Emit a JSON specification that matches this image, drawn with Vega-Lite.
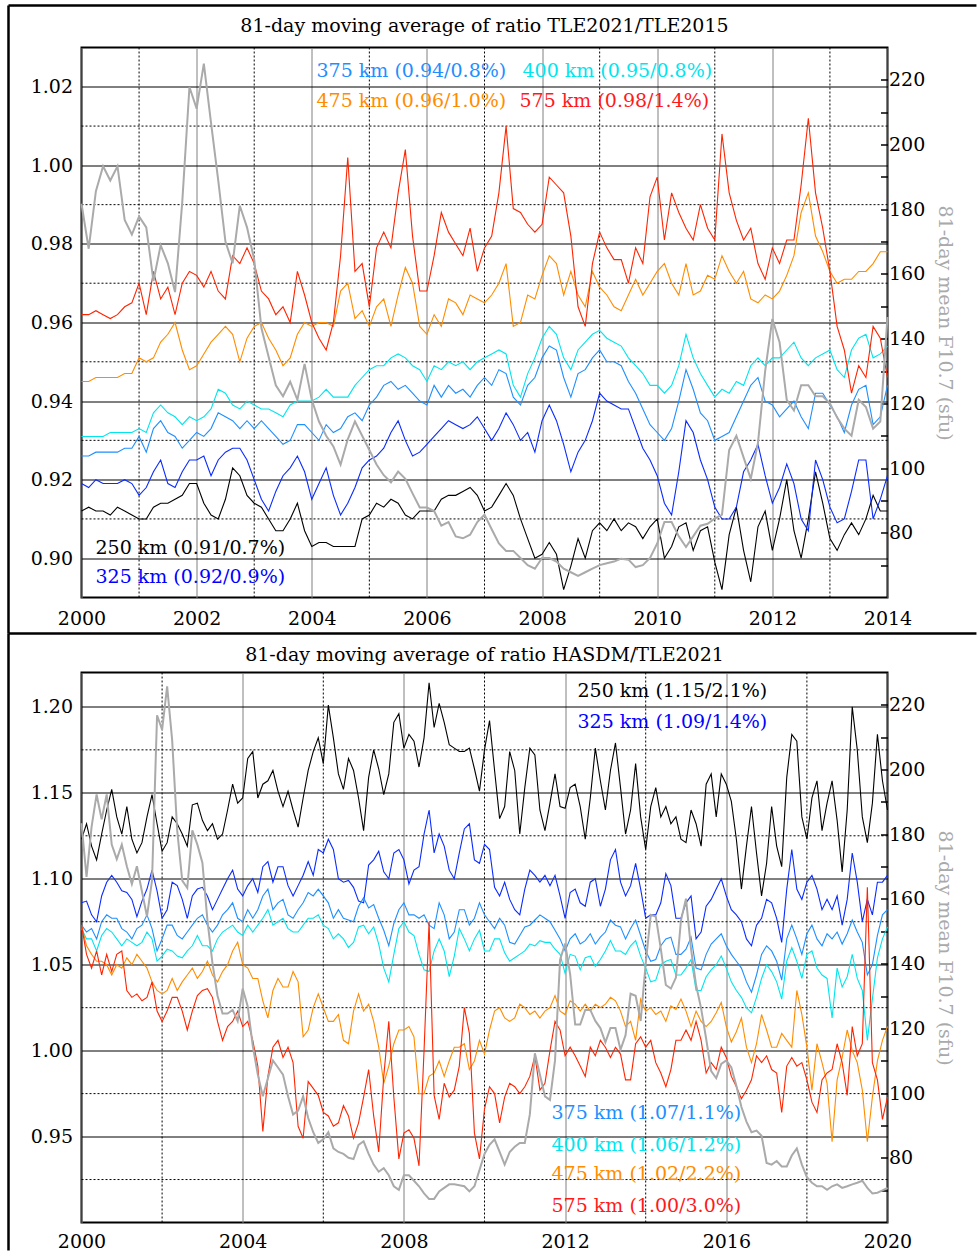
{
"$schema":"https://vega.github.io/schema/vega-lite/v6.json",
"padding":{"left":5.5,"top":2.5,"right":0,"bottom":0},
"background":"#ffffff",
"spacing":75,
"bounds":"flush",
"config":{
 "font":"DejaVu Serif",
 "view":{"stroke":"#000000","strokeWidth":2},
 "axis":{"labelFont":"DejaVu Serif","labelFontSize":19,"labelColor":"#000000","titleFont":"DejaVu Serif","titleFontWeight":"normal","domain":false,"ticks":false,"tickSize":0,"labelFlush":false,"labelOverlap":false,"gridWidth":1}
},
"datasets":{
"top":[
{"t":2000,"a":0.912,"b":0.919,"c":0.926,"d":0.931,"e":0.945,"f":0.962,"g":181.7},
{"t":2000.125,"a":0.913,"b":0.918,"c":0.926,"d":0.931,"e":0.945,"f":0.962,"g":167.8},
{"t":2000.25,"a":0.912,"b":0.920,"c":0.927,"d":0.931,"e":0.946,"f":0.963,"g":185.6},
{"t":2000.375,"a":0.912,"b":0.919,"c":0.927,"d":0.931,"e":0.946,"f":0.962,"g":193.3},
{"t":2000.5,"a":0.911,"b":0.919,"c":0.927,"d":0.932,"e":0.946,"f":0.961,"g":188.9},
{"t":2000.625,"a":0.913,"b":0.919,"c":0.927,"d":0.932,"e":0.946,"f":0.962,"g":193.3},
{"t":2000.75,"a":0.912,"b":0.920,"c":0.928,"d":0.932,"e":0.947,"f":0.964,"g":176.7},
{"t":2000.875,"a":0.911,"b":0.919,"c":0.928,"d":0.932,"e":0.947,"f":0.965,"g":172.2},
{"t":2001,"a":0.910,"b":0.916,"c":0.931,"d":0.933,"e":0.951,"f":0.970,"g":177.8},
{"t":2001.125,"a":0.910,"b":0.918,"c":0.927,"d":0.932,"e":0.950,"f":0.962,"g":174.4},
{"t":2001.25,"a":0.913,"b":0.922,"c":0.933,"d":0.937,"e":0.951,"f":0.973,"g":157.8},
{"t":2001.375,"a":0.914,"b":0.925,"c":0.935,"d":0.939,"e":0.955,"f":0.966,"g":168.9},
{"t":2001.5,"a":0.914,"b":0.919,"c":0.932,"d":0.937,"e":0.957,"f":0.969,"g":163.3},
{"t":2001.625,"a":0.915,"b":0.918,"c":0.931,"d":0.936,"e":0.960,"f":0.962,"g":154.4},
{"t":2001.75,"a":0.916,"b":0.922,"c":0.928,"d":0.934,"e":0.953,"f":0.970,"g":182.2},
{"t":2001.875,"a":0.919,"b":0.925,"c":0.930,"d":0.936,"e":0.948,"f":0.973,"g":217.8},
{"t":2002,"a":0.919,"b":0.925,"c":0.932,"d":0.935,"e":0.949,"f":0.972,"g":211.1},
{"t":2002.125,"a":0.914,"b":0.926,"c":0.931,"d":0.936,"e":0.952,"f":0.969,"g":225},
{"t":2002.25,"a":0.911,"b":0.921,"c":0.933,"d":0.938,"e":0.955,"f":0.973,"g":206.7},
{"t":2002.375,"a":0.910,"b":0.925,"c":0.937,"d":0.943,"e":0.957,"f":0.968,"g":188.9},
{"t":2002.5,"a":0.915,"b":0.927,"c":0.936,"d":0.942,"e":0.959,"f":0.966,"g":170},
{"t":2002.625,"a":0.923,"b":0.928,"c":0.935,"d":0.939,"e":0.957,"f":0.977,"g":163.3},
{"t":2002.75,"a":0.921,"b":0.928,"c":0.933,"d":0.938,"e":0.950,"f":0.975,"g":181.1},
{"t":2002.875,"a":0.916,"b":0.925,"c":0.935,"d":0.940,"e":0.956,"f":0.979,"g":174.4},
{"t":2003,"a":0.914,"b":0.920,"c":0.933,"d":0.939,"e":0.959,"f":0.975,"g":164.4},
{"t":2003.125,"a":0.913,"b":0.915,"c":0.935,"d":0.938,"e":0.960,"f":0.968,"g":143.3},
{"t":2003.25,"a":0.910,"b":0.912,"c":0.933,"d":0.938,"e":0.956,"f":0.966,"g":134.4},
{"t":2003.375,"a":0.907,"b":0.917,"c":0.931,"d":0.937,"e":0.953,"f":0.962,"g":125.6},
{"t":2003.5,"a":0.907,"b":0.921,"c":0.929,"d":0.936,"e":0.949,"f":0.964,"g":122.2},
{"t":2003.625,"a":0.910,"b":0.923,"c":0.930,"d":0.939,"e":0.951,"f":0.960,"g":126.7},
{"t":2003.75,"a":0.914,"b":0.926,"c":0.934,"d":0.940,"e":0.957,"f":0.973,"g":121.1},
{"t":2003.875,"a":0.907,"b":0.922,"c":0.934,"d":0.940,"e":0.960,"f":0.967,"g":132.2},
{"t":2004,"a":0.903,"b":0.915,"c":0.932,"d":0.940,"e":0.959,"f":0.960,"g":121.1},
{"t":2004.125,"a":0.904,"b":0.919,"c":0.930,"d":0.941,"e":0.960,"f":0.956,"g":114.4},
{"t":2004.25,"a":0.904,"b":0.923,"c":0.934,"d":0.943,"e":0.960,"f":0.953,"g":110},
{"t":2004.375,"a":0.903,"b":0.916,"c":0.932,"d":0.941,"e":0.959,"f":0.960,"g":106.7},
{"t":2004.5,"a":0.903,"b":0.911,"c":0.933,"d":0.941,"e":0.968,"f":0.977,"g":101.1},
{"t":2004.625,"a":0.903,"b":0.914,"c":0.936,"d":0.941,"e":0.970,"f":1.002,"g":108.9},
{"t":2004.75,"a":0.903,"b":0.918,"c":0.937,"d":0.944,"e":0.961,"f":0.973,"g":114.4},
{"t":2004.875,"a":0.910,"b":0.923,"c":0.935,"d":0.946,"e":0.963,"f":0.975,"g":110},
{"t":2005,"a":0.911,"b":0.925,"c":0.939,"d":0.948,"e":0.959,"f":0.964,"g":105.6},
{"t":2005.125,"a":0.914,"b":0.926,"c":0.941,"d":0.949,"e":0.964,"f":0.979,"g":101.1},
{"t":2005.25,"a":0.913,"b":0.928,"c":0.944,"d":0.949,"e":0.966,"f":0.983,"g":97.8},
{"t":2005.375,"a":0.915,"b":0.932,"c":0.945,"d":0.951,"e":0.959,"f":0.979,"g":95.6},
{"t":2005.5,"a":0.914,"b":0.935,"c":0.943,"d":0.952,"e":0.967,"f":0.993,"g":98.9},
{"t":2005.625,"a":0.911,"b":0.930,"c":0.944,"d":0.951,"e":0.974,"f":1.004,"g":96.7},
{"t":2005.75,"a":0.910,"b":0.926,"c":0.942,"d":0.949,"e":0.970,"f":0.982,"g":92.2},
{"t":2005.875,"a":0.912,"b":0.927,"c":0.940,"d":0.948,"e":0.959,"f":0.968,"g":87.8},
{"t":2006,"a":0.912,"b":0.929,"c":0.939,"d":0.945,"e":0.957,"f":0.968,"g":87.8},
{"t":2006.125,"a":0.912,"b":0.931,"c":0.944,"d":0.949,"e":0.962,"f":0.977,"g":86.7},
{"t":2006.25,"a":0.915,"b":0.933,"c":0.941,"d":0.948,"e":0.959,"f":0.988,"g":82.2},
{"t":2006.375,"a":0.916,"b":0.935,"c":0.944,"d":0.950,"e":0.966,"f":0.983,"g":83.3},
{"t":2006.5,"a":0.916,"b":0.934,"c":0.942,"d":0.949,"e":0.965,"f":0.980,"g":78.9},
{"t":2006.625,"a":0.917,"b":0.933,"c":0.943,"d":0.950,"e":0.962,"f":0.977,"g":78.3},
{"t":2006.75,"a":0.918,"b":0.934,"c":0.941,"d":0.948,"e":0.967,"f":0.984,"g":79.4},
{"t":2006.875,"a":0.916,"b":0.936,"c":0.944,"d":0.950,"e":0.966,"f":0.973,"g":83.3},
{"t":2007,"a":0.912,"b":0.933,"c":0.946,"d":0.951,"e":0.965,"f":0.979,"g":85.6},
{"t":2007.125,"a":0.913,"b":0.930,"c":0.944,"d":0.952,"e":0.967,"f":0.982,"g":81.1},
{"t":2007.25,"a":0.916,"b":0.933,"c":0.948,"d":0.953,"e":0.970,"f":0.993,"g":76.7},
{"t":2007.375,"a":0.919,"b":0.937,"c":0.947,"d":0.952,"e":0.975,"f":1.010,"g":74.4},
{"t":2007.5,"a":0.916,"b":0.934,"c":0.941,"d":0.944,"e":0.959,"f":0.989,"g":74.4},
{"t":2007.625,"a":0.910,"b":0.930,"c":0.939,"d":0.941,"e":0.960,"f":0.988,"g":72.2},
{"t":2007.75,"a":0.905,"b":0.932,"c":0.944,"d":0.947,"e":0.967,"f":0.985,"g":70},
{"t":2007.875,"a":0.900,"b":0.927,"c":0.946,"d":0.951,"e":0.966,"f":0.983,"g":68.9},
{"t":2008,"a":0.901,"b":0.935,"c":0.951,"d":0.956,"e":0.972,"f":0.985,"g":72.2},
{"t":2008.125,"a":0.904,"b":0.939,"c":0.954,"d":0.959,"e":0.977,"f":0.997,"g":72.2},
{"t":2008.25,"a":0.901,"b":0.935,"c":0.953,"d":0.957,"e":0.975,"f":0.995,"g":71.1},
{"t":2008.375,"a":0.892,"b":0.929,"c":0.946,"d":0.951,"e":0.967,"f":0.993,"g":68.9},
{"t":2008.5,"a":0.898,"b":0.922,"c":0.941,"d":0.948,"e":0.973,"f":0.982,"g":67.8},
{"t":2008.625,"a":0.905,"b":0.927,"c":0.947,"d":0.953,"e":0.967,"f":0.964,"g":66.7},
{"t":2008.75,"a":0.900,"b":0.930,"c":0.948,"d":0.955,"e":0.964,"f":0.959,"g":67.8},
{"t":2008.875,"a":0.907,"b":0.935,"c":0.951,"d":0.957,"e":0.973,"f":0.975,"g":68.9},
{"t":2009,"a":0.909,"b":0.942,"c":0.953,"d":0.958,"e":0.969,"f":0.983,"g":70},
{"t":2009.125,"a":0.907,"b":0.940,"c":0.950,"d":0.956,"e":0.967,"f":0.979,"g":70.6},
{"t":2009.25,"a":0.910,"b":0.939,"c":0.950,"d":0.955,"e":0.964,"f":0.976,"g":71.1},
{"t":2009.375,"a":0.907,"b":0.938,"c":0.949,"d":0.954,"e":0.963,"f":0.976,"g":72},
{"t":2009.5,"a":0.909,"b":0.938,"c":0.945,"d":0.951,"e":0.967,"f":0.970,"g":71.7},
{"t":2009.625,"a":0.908,"b":0.933,"c":0.942,"d":0.949,"e":0.971,"f":0.979,"g":69.4},
{"t":2009.75,"a":0.905,"b":0.928,"c":0.938,"d":0.947,"e":0.967,"f":0.975,"g":70},
{"t":2009.875,"a":0.908,"b":0.925,"c":0.934,"d":0.944,"e":0.970,"f":0.992,"g":72.2},
{"t":2010,"a":0.910,"b":0.921,"c":0.932,"d":0.944,"e":0.973,"f":0.997,"g":76.7},
{"t":2010.125,"a":0.900,"b":0.914,"c":0.930,"d":0.942,"e":0.975,"f":0.981,"g":83.3},
{"t":2010.25,"a":0.903,"b":0.911,"c":0.933,"d":0.944,"e":0.970,"f":0.993,"g":83.3},
{"t":2010.375,"a":0.908,"b":0.922,"c":0.940,"d":0.949,"e":0.967,"f":0.988,"g":78.9},
{"t":2010.5,"a":0.909,"b":0.935,"c":0.948,"d":0.957,"e":0.975,"f":0.984,"g":75.6},
{"t":2010.625,"a":0.902,"b":0.932,"c":0.943,"d":0.951,"e":0.967,"f":0.981,"g":78.9},
{"t":2010.75,"a":0.907,"b":0.925,"c":0.937,"d":0.947,"e":0.968,"f":0.990,"g":82.2},
{"t":2010.875,"a":0.908,"b":0.920,"c":0.935,"d":0.944,"e":0.972,"f":0.984,"g":82.8},
{"t":2011,"a":0.899,"b":0.913,"c":0.930,"d":0.941,"e":0.971,"f":0.981,"g":84.4},
{"t":2011.125,"a":0.892,"b":0.910,"c":0.931,"d":0.943,"e":0.977,"f":1.008,"g":85.6},
{"t":2011.25,"a":0.906,"b":0.910,"c":0.932,"d":0.942,"e":0.973,"f":0.993,"g":105.6},
{"t":2011.375,"a":0.913,"b":0.913,"c":0.936,"d":0.945,"e":0.970,"f":0.986,"g":110},
{"t":2011.5,"a":0.902,"b":0.922,"c":0.940,"d":0.944,"e":0.973,"f":0.981,"g":103.3},
{"t":2011.625,"a":0.894,"b":0.925,"c":0.944,"d":0.949,"e":0.966,"f":0.984,"g":96.7},
{"t":2011.75,"a":0.908,"b":0.929,"c":0.946,"d":0.951,"e":0.965,"f":0.975,"g":107.8},
{"t":2011.875,"a":0.912,"b":0.921,"c":0.940,"d":0.949,"e":0.967,"f":0.971,"g":130},
{"t":2012,"a":0.902,"b":0.914,"c":0.939,"d":0.951,"e":0.966,"f":0.979,"g":146.1},
{"t":2012.125,"a":0.910,"b":0.918,"c":0.936,"d":0.951,"e":0.968,"f":0.975,"g":138.9},
{"t":2012.25,"a":0.920,"b":0.924,"c":0.938,"d":0.953,"e":0.972,"f":0.981,"g":121.1},
{"t":2012.375,"a":0.907,"b":0.919,"c":0.940,"d":0.955,"e":0.977,"f":0.981,"g":117.8},
{"t":2012.5,"a":0.900,"b":0.910,"c":0.936,"d":0.951,"e":0.988,"f":0.995,"g":125.6},
{"t":2012.625,"a":0.910,"b":0.907,"c":0.933,"d":0.949,"e":0.993,"f":1.012,"g":125.6},
{"t":2012.75,"a":0.922,"b":0.925,"c":0.942,"d":0.951,"e":0.982,"f":0.993,"g":122.2},
{"t":2012.875,"a":0.914,"b":0.920,"c":0.942,"d":0.952,"e":0.978,"f":0.984,"g":122.2},
{"t":2013,"a":0.905,"b":0.913,"c":0.939,"d":0.953,"e":0.973,"f":0.973,"g":120},
{"t":2013.125,"a":0.902,"b":0.909,"c":0.936,"d":0.948,"e":0.970,"f":0.959,"g":115.6},
{"t":2013.25,"a":0.906,"b":0.910,"c":0.932,"d":0.946,"e":0.971,"f":0.953,"g":112.2},
{"t":2013.375,"a":0.909,"b":0.917,"c":0.939,"d":0.953,"e":0.971,"f":0.942,"g":110},
{"t":2013.5,"a":0.906,"b":0.925,"c":0.943,"d":0.956,"e":0.973,"f":0.949,"g":121.1},
{"t":2013.625,"a":0.910,"b":0.925,"c":0.944,"d":0.957,"e":0.973,"f":0.946,"g":118.9},
{"t":2013.75,"a":0.916,"b":0.910,"c":0.934,"d":0.951,"e":0.975,"f":0.959,"g":112.2},
{"t":2013.875,"a":0.912,"b":0.915,"c":0.936,"d":0.952,"e":0.978,"f":0.956,"g":114.4},
{"t":2014,"a":0.912,"b":0.921,"c":0.944,"d":0.954,"e":0.978,"f":0.946,"g":146.7}
],
"bot":[
{"t":2000,"a":1.123,"b":1.086,"c":1.073,"d":1.071,"e":1.073,"f":1.073,"g":183.4},
{"t":2000.125,"a":1.132,"b":1.087,"c":1.069,"d":1.065,"e":1.061,"f":1.056,"g":166.8},
{"t":2000.25,"a":1.119,"b":1.079,"c":1.071,"d":1.065,"e":1.056,"f":1.048,"g":182.3},
{"t":2000.375,"a":1.111,"b":1.075,"c":1.065,"d":1.058,"e":1.052,"f":1.058,"g":192.3},
{"t":2000.5,"a":1.126,"b":1.090,"c":1.075,"d":1.067,"e":1.052,"f":1.044,"g":184.6},
{"t":2000.625,"a":1.140,"b":1.098,"c":1.079,"d":1.071,"e":1.050,"f":1.056,"g":192.3},
{"t":2000.75,"a":1.152,"b":1.102,"c":1.077,"d":1.069,"e":1.044,"f":1.046,"g":176.8},
{"t":2000.875,"a":1.136,"b":1.098,"c":1.077,"d":1.065,"e":1.050,"f":1.056,"g":172.3},
{"t":2001,"a":1.126,"b":1.093,"c":1.071,"d":1.061,"e":1.048,"f":1.058,"g":176.8},
{"t":2001.125,"a":1.142,"b":1.092,"c":1.069,"d":1.065,"e":1.054,"f":1.035,"g":170.1},
{"t":2001.25,"a":1.123,"b":1.088,"c":1.065,"d":1.063,"e":1.050,"f":1.031,"g":164.6},
{"t":2001.375,"a":1.115,"b":1.078,"c":1.071,"d":1.061,"e":1.056,"f":1.033,"g":170.1},
{"t":2001.5,"a":1.121,"b":1.087,"c":1.073,"d":1.063,"e":1.052,"f":1.029,"g":162.3},
{"t":2001.625,"a":1.136,"b":1.094,"c":1.079,"d":1.069,"e":1.048,"f":1.031,"g":154.6},
{"t":2001.75,"a":1.149,"b":1.105,"c":1.071,"d":1.065,"e":1.040,"f":1.040,"g":165.7},
{"t":2001.875,"a":1.132,"b":1.093,"c":1.058,"d":1.052,"e":1.035,"f":1.023,"g":216.8},
{"t":2002,"a":1.116,"b":1.077,"c":1.065,"d":1.055,"e":1.033,"f":1.017,"g":212.3},
{"t":2002.125,"a":1.121,"b":1.082,"c":1.073,"d":1.059,"e":1.035,"f":1.023,"g":225.7},
{"t":2002.25,"a":1.136,"b":1.098,"c":1.073,"d":1.058,"e":1.042,"f":1.031,"g":209},
{"t":2002.375,"a":1.132,"b":1.096,"c":1.067,"d":1.055,"e":1.035,"f":1.031,"g":181.2},
{"t":2002.5,"a":1.126,"b":1.088,"c":1.065,"d":1.054,"e":1.040,"f":1.023,"g":165.7},
{"t":2002.625,"a":1.119,"b":1.077,"c":1.069,"d":1.058,"e":1.044,"f":1.012,"g":163.4},
{"t":2002.75,"a":1.143,"b":1.090,"c":1.073,"d":1.061,"e":1.048,"f":1.023,"g":181.2},
{"t":2002.875,"a":1.144,"b":1.094,"c":1.077,"d":1.067,"e":1.042,"f":1.032,"g":176.8},
{"t":2003,"a":1.134,"b":1.095,"c":1.079,"d":1.061,"e":1.046,"f":1.035,"g":171.2},
{"t":2003.125,"a":1.128,"b":1.090,"c":1.073,"d":1.061,"e":1.052,"f":1.036,"g":153.4},
{"t":2003.25,"a":1.132,"b":1.082,"c":1.069,"d":1.058,"e":1.044,"f":1.031,"g":140.1},
{"t":2003.375,"a":1.123,"b":1.088,"c":1.073,"d":1.065,"e":1.040,"f":1.017,"g":130.1},
{"t":2003.5,"a":1.126,"b":1.094,"c":1.079,"d":1.069,"e":1.046,"f":1.006,"g":124.6},
{"t":2003.625,"a":1.140,"b":1.100,"c":1.082,"d":1.071,"e":1.050,"f":1.014,"g":124.6},
{"t":2003.75,"a":1.155,"b":1.105,"c":1.086,"d":1.073,"e":1.058,"f":1.017,"g":125.7},
{"t":2003.875,"a":1.144,"b":1.094,"c":1.077,"d":1.069,"e":1.063,"f":1.023,"g":122.3},
{"t":2004,"a":1.147,"b":1.090,"c":1.075,"d":1.067,"e":1.050,"f":1.014,"g":132.3},
{"t":2004.125,"a":1.170,"b":1.096,"c":1.082,"d":1.073,"e":1.048,"f":1.017,"g":126.8},
{"t":2004.25,"a":1.174,"b":1.100,"c":1.077,"d":1.069,"e":1.042,"f":1.006,"g":114.6},
{"t":2004.375,"a":1.147,"b":1.092,"c":1.082,"d":1.073,"e":1.042,"f":0.991,"g":105.7},
{"t":2004.5,"a":1.155,"b":1.107,"c":1.090,"d":1.077,"e":1.029,"f":0.953,"g":99},
{"t":2004.625,"a":1.157,"b":1.110,"c":1.094,"d":1.082,"e":1.019,"f":0.985,"g":104.6},
{"t":2004.75,"a":1.163,"b":1.098,"c":1.082,"d":1.073,"e":1.035,"f":1.002,"g":110.1},
{"t":2004.875,"a":1.151,"b":1.107,"c":1.086,"d":1.075,"e":1.042,"f":1.006,"g":107.9},
{"t":2005,"a":1.142,"b":1.107,"c":1.088,"d":1.077,"e":1.037,"f":0.996,"g":105.7},
{"t":2005.125,"a":1.151,"b":1.096,"c":1.079,"d":1.071,"e":1.037,"f":1.002,"g":99},
{"t":2005.25,"a":1.140,"b":1.090,"c":1.077,"d":1.069,"e":1.046,"f":0.993,"g":93.4},
{"t":2005.375,"a":1.130,"b":1.096,"c":1.082,"d":1.069,"e":1.040,"f":0.956,"g":94.6},
{"t":2005.5,"a":1.147,"b":1.102,"c":1.086,"d":1.073,"e":1.008,"f":0.949,"g":99},
{"t":2005.625,"a":1.163,"b":1.110,"c":1.092,"d":1.077,"e":1.012,"f":0.982,"g":92.3},
{"t":2005.75,"a":1.174,"b":1.102,"c":1.090,"d":1.077,"e":1.025,"f":0.978,"g":87.9},
{"t":2005.875,"a":1.182,"b":1.117,"c":1.094,"d":1.079,"e":1.033,"f":0.974,"g":84.6},
{"t":2006,"a":1.167,"b":1.115,"c":1.090,"d":1.073,"e":1.025,"f":0.964,"g":85.7},
{"t":2006.125,"a":1.201,"b":1.123,"c":1.086,"d":1.071,"e":1.017,"f":0.962,"g":87.9},
{"t":2006.25,"a":1.182,"b":1.117,"c":1.077,"d":1.065,"e":1.017,"f":0.956,"g":82.9},
{"t":2006.375,"a":1.161,"b":1.100,"c":1.082,"d":1.068,"e":1.021,"f":0.958,"g":81.8},
{"t":2006.5,"a":1.152,"b":1.098,"c":1.077,"d":1.065,"e":1.006,"f":0.968,"g":81.2},
{"t":2006.625,"a":1.170,"b":1.099,"c":1.076,"d":1.060,"e":1.004,"f":0.962,"g":80},
{"t":2006.75,"a":1.163,"b":1.095,"c":1.075,"d":1.063,"e":1.023,"f":0.949,"g":79.6},
{"t":2006.875,"a":1.147,"b":1.087,"c":1.084,"d":1.072,"e":1.033,"f":0.958,"g":84},
{"t":2007,"a":1.128,"b":1.086,"c":1.089,"d":1.073,"e":1.023,"f":0.973,"g":85.1},
{"t":2007.125,"a":1.159,"b":1.108,"c":1.083,"d":1.068,"e":1.027,"f":0.989,"g":81.2},
{"t":2007.25,"a":1.175,"b":1.111,"c":1.085,"d":1.072,"e":1.017,"f":0.962,"g":77.9},
{"t":2007.375,"a":1.164,"b":1.116,"c":1.077,"d":1.062,"e":1.002,"f":0.941,"g":75.7},
{"t":2007.5,"a":1.149,"b":1.104,"c":1.070,"d":1.048,"e":0.981,"f":0.985,"g":76.8},
{"t":2007.625,"a":1.161,"b":1.100,"c":1.061,"d":1.040,"e":0.991,"f":1.017,"g":74.6},
{"t":2007.75,"a":1.191,"b":1.115,"c":1.074,"d":1.056,"e":1.004,"f":0.973,"g":71.2},
{"t":2007.875,"a":1.196,"b":1.117,"c":1.082,"d":1.071,"e":1.012,"f":0.937,"g":70.1},
{"t":2008,"a":1.176,"b":1.111,"c":1.086,"d":1.075,"e":1.012,"f":0.952,"g":74.6},
{"t":2008.125,"a":1.184,"b":1.097,"c":1.079,"d":1.069,"e":1.014,"f":0.954,"g":74.6},
{"t":2008.25,"a":1.180,"b":1.105,"c":1.079,"d":1.067,"e":1.008,"f":0.949,"g":72.9},
{"t":2008.375,"a":1.165,"b":1.107,"c":1.077,"d":1.056,"e":0.975,"f":0.933,"g":71.2},
{"t":2008.5,"a":1.182,"b":1.126,"c":1.079,"d":1.047,"e":0.975,"f":1.000,"g":69},
{"t":2008.625,"a":1.214,"b":1.140,"c":1.073,"d":1.046,"e":0.985,"f":1.075,"g":67.3},
{"t":2008.75,"a":1.188,"b":1.115,"c":1.071,"d":1.058,"e":0.987,"f":0.974,"g":67.3},
{"t":2008.875,"a":1.202,"b":1.126,"c":1.086,"d":1.065,"e":0.994,"f":0.960,"g":69.6},
{"t":2009,"a":1.191,"b":1.119,"c":1.079,"d":1.058,"e":0.985,"f":0.981,"g":70.7},
{"t":2009.125,"a":1.178,"b":1.105,"c":1.065,"d":1.043,"e":0.994,"f":0.973,"g":71.8},
{"t":2009.25,"a":1.176,"b":1.100,"c":1.069,"d":1.055,"e":1.002,"f":0.977,"g":71.8},
{"t":2009.375,"a":1.174,"b":1.115,"c":1.082,"d":1.071,"e":1.002,"f":0.991,"g":71.5},
{"t":2009.5,"a":1.174,"b":1.129,"c":1.082,"d":1.065,"e":1.004,"f":1.025,"g":71.2},
{"t":2009.625,"a":1.176,"b":1.132,"c":1.073,"d":1.058,"e":0.989,"f":1.010,"g":69.6},
{"t":2009.75,"a":1.164,"b":1.111,"c":1.077,"d":1.065,"e":0.994,"f":0.952,"g":71.2},
{"t":2009.875,"a":1.151,"b":1.109,"c":1.086,"d":1.070,"e":1.006,"f":0.937,"g":76.2},
{"t":2010,"a":1.175,"b":1.120,"c":1.079,"d":1.058,"e":0.998,"f":0.966,"g":81.2},
{"t":2010.125,"a":1.192,"b":1.117,"c":1.075,"d":1.058,"e":1.012,"f":0.979,"g":84},
{"t":2010.25,"a":1.163,"b":1.095,"c":1.071,"d":1.065,"e":1.023,"f":0.975,"g":85.7},
{"t":2010.375,"a":1.135,"b":1.090,"c":1.077,"d":1.065,"e":1.025,"f":0.958,"g":81.8},
{"t":2010.5,"a":1.142,"b":1.098,"c":1.073,"d":1.057,"e":1.019,"f":0.973,"g":77.9},
{"t":2010.625,"a":1.174,"b":1.088,"c":1.063,"d":1.052,"e":1.017,"f":0.981,"g":81.8},
{"t":2010.75,"a":1.163,"b":1.082,"c":1.062,"d":1.054,"e":1.019,"f":0.979,"g":83.4},
{"t":2010.875,"a":1.126,"b":1.079,"c":1.067,"d":1.056,"e":1.027,"f":0.975,"g":84.6},
{"t":2011,"a":1.153,"b":1.094,"c":1.072,"d":1.058,"e":1.025,"f":0.979,"g":84.6},
{"t":2011.125,"a":1.176,"b":1.105,"c":1.073,"d":1.062,"e":1.021,"f":0.985,"g":93.4},
{"t":2011.25,"a":1.172,"b":1.102,"c":1.076,"d":1.061,"e":1.023,"f":0.997,"g":112.3},
{"t":2011.375,"a":1.140,"b":1.098,"c":1.079,"d":1.064,"e":1.019,"f":0.977,"g":105.7},
{"t":2011.5,"a":1.128,"b":1.102,"c":1.077,"d":1.063,"e":1.023,"f":0.981,"g":99},
{"t":2011.625,"a":1.144,"b":1.096,"c":1.075,"d":1.063,"e":1.025,"f":1.000,"g":97.9},
{"t":2011.75,"a":1.161,"b":1.102,"c":1.070,"d":1.059,"e":1.032,"f":1.017,"g":110.1},
{"t":2011.875,"a":1.142,"b":1.090,"c":1.065,"d":1.056,"e":1.023,"f":1.012,"g":141.2},
{"t":2012,"a":1.141,"b":1.077,"c":1.058,"d":1.045,"e":1.021,"f":0.997,"g":146.2},
{"t":2012.125,"a":1.153,"b":1.092,"c":1.065,"d":1.056,"e":1.029,"f":1.002,"g":136.8},
{"t":2012.25,"a":1.155,"b":1.094,"c":1.068,"d":1.055,"e":1.027,"f":0.997,"g":121.2},
{"t":2012.375,"a":1.142,"b":1.086,"c":1.062,"d":1.047,"e":1.023,"f":0.991,"g":121.2},
{"t":2012.5,"a":1.123,"b":1.084,"c":1.064,"d":1.054,"e":1.027,"f":0.985,"g":125.7},
{"t":2012.625,"a":1.147,"b":1.098,"c":1.068,"d":1.055,"e":1.023,"f":1.002,"g":125.7},
{"t":2012.75,"a":1.176,"b":1.100,"c":1.062,"d":1.049,"e":1.027,"f":0.997,"g":122.3},
{"t":2012.875,"a":1.157,"b":1.084,"c":1.066,"d":1.053,"e":1.025,"f":1.006,"g":120.1},
{"t":2013,"a":1.140,"b":1.094,"c":1.069,"d":1.058,"e":1.027,"f":1.002,"g":115.7},
{"t":2013.125,"a":1.163,"b":1.111,"c":1.076,"d":1.064,"e":1.031,"f":0.996,"g":120.1},
{"t":2013.25,"a":1.179,"b":1.117,"c":1.073,"d":1.058,"e":1.029,"f":1.002,"g":120.1},
{"t":2013.375,"a":1.153,"b":1.098,"c":1.072,"d":1.058,"e":1.023,"f":0.998,"g":113.4},
{"t":2013.5,"a":1.126,"b":1.090,"c":1.065,"d":1.056,"e":1.014,"f":0.983,"g":117.9},
{"t":2013.625,"a":1.140,"b":1.096,"c":1.071,"d":1.061,"e":1.017,"f":0.983,"g":130.7},
{"t":2013.75,"a":1.167,"b":1.109,"c":1.076,"d":1.064,"e":1.006,"f":1.004,"g":130.1},
{"t":2013.875,"a":1.136,"b":1.094,"c":1.067,"d":1.055,"e":1.030,"f":1.008,"g":122.3},
{"t":2014,"a":1.117,"b":1.077,"c":1.058,"d":1.048,"e":1.023,"f":1.002,"g":140},
{"t":2014.125,"a":1.142,"b":1.079,"c":1.052,"d":1.040,"e":1.025,"f":1.006,"g":155.1},
{"t":2014.25,"a":1.153,"b":1.079,"c":1.053,"d":1.041,"e":1.021,"f":0.993,"g":154.6},
{"t":2014.375,"a":1.136,"b":1.086,"c":1.061,"d":1.050,"e":1.023,"f":0.987,"g":144.6},
{"t":2014.5,"a":1.142,"b":1.103,"c":1.065,"d":1.052,"e":1.017,"f":0.979,"g":133.4},
{"t":2014.625,"a":1.132,"b":1.096,"c":1.066,"d":1.053,"e":1.026,"f":0.989,"g":132.3},
{"t":2014.75,"a":1.136,"b":1.077,"c":1.056,"d":1.044,"e":1.024,"f":1.006,"g":135.7},
{"t":2014.875,"a":1.123,"b":1.077,"c":1.056,"d":1.044,"e":1.030,"f":1.006,"g":153.4},
{"t":2015,"a":1.121,"b":1.086,"c":1.059,"d":1.048,"e":1.023,"f":1.012,"g":160.1},
{"t":2015.125,"a":1.140,"b":1.090,"c":1.066,"d":1.053,"e":1.014,"f":1.006,"g":144.6},
{"t":2015.25,"a":1.132,"b":1.065,"c":1.048,"d":1.035,"e":1.023,"f":1.017,"g":133.4},
{"t":2015.375,"a":1.119,"b":1.069,"c":1.047,"d":1.035,"e":1.017,"f":1.006,"g":126.2},
{"t":2015.5,"a":1.155,"b":1.084,"c":1.056,"d":1.043,"e":1.014,"f":0.987,"g":116.8},
{"t":2015.625,"a":1.161,"b":1.088,"c":1.062,"d":1.047,"e":1.017,"f":0.993,"g":106.8},
{"t":2015.75,"a":1.136,"b":1.094,"c":1.065,"d":1.050,"e":1.022,"f":0.989,"g":104.6},
{"t":2015.875,"a":1.161,"b":1.100,"c":1.068,"d":1.055,"e":1.028,"f":1.002,"g":109},
{"t":2016,"a":1.155,"b":1.090,"c":1.061,"d":1.048,"e":1.014,"f":0.996,"g":110.1},
{"t":2016.125,"a":1.145,"b":1.082,"c":1.056,"d":1.040,"e":1.005,"f":0.985,"g":107.9},
{"t":2016.25,"a":1.123,"b":1.079,"c":1.052,"d":1.035,"e":1.011,"f":0.979,"g":102.3},
{"t":2016.375,"a":1.094,"b":1.075,"c":1.048,"d":1.031,"e":1.019,"f":0.972,"g":95.7},
{"t":2016.5,"a":1.119,"b":1.065,"c":1.040,"d":1.025,"e":1.002,"f":0.977,"g":91.2},
{"t":2016.625,"a":1.142,"b":1.061,"c":1.034,"d":1.022,"e":0.993,"f":0.983,"g":87.9},
{"t":2016.75,"a":1.115,"b":1.073,"c":1.044,"d":1.031,"e":1.004,"f":0.997,"g":88.4},
{"t":2016.875,"a":1.090,"b":1.077,"c":1.056,"d":1.042,"e":1.021,"f":0.993,"g":86.8},
{"t":2017,"a":1.109,"b":1.088,"c":1.061,"d":1.050,"e":1.012,"f":0.997,"g":78.4},
{"t":2017.125,"a":1.142,"b":1.086,"c":1.058,"d":1.046,"e":1.002,"f":0.989,"g":77.9},
{"t":2017.25,"a":1.119,"b":1.077,"c":1.052,"d":1.040,"e":1.002,"f":0.987,"g":79},
{"t":2017.375,"a":1.107,"b":1.063,"c":1.041,"d":1.030,"e":1.010,"f":0.964,"g":77.3},
{"t":2017.5,"a":1.159,"b":1.094,"c":1.065,"d":1.052,"e":1.006,"f":0.991,"g":77.3},
{"t":2017.625,"a":1.184,"b":1.117,"c":1.073,"d":1.060,"e":1.002,"f":0.996,"g":80.7},
{"t":2017.75,"a":1.180,"b":1.094,"c":1.065,"d":1.052,"e":1.035,"f":0.991,"g":82.9},
{"t":2017.875,"a":1.136,"b":1.088,"c":1.056,"d":1.042,"e":1.021,"f":0.993,"g":77.9},
{"t":2018,"a":1.123,"b":1.098,"c":1.068,"d":1.056,"e":1.002,"f":0.983,"g":74},
{"t":2018.125,"a":1.147,"b":1.102,"c":1.073,"d":1.058,"e":0.977,"f":0.970,"g":72.3},
{"t":2018.25,"a":1.157,"b":1.094,"c":1.065,"d":1.048,"e":1.004,"f":0.964,"g":71.2},
{"t":2018.375,"a":1.128,"b":1.082,"c":1.061,"d":1.044,"e":0.993,"f":0.983,"g":71.2},
{"t":2018.5,"a":1.144,"b":1.088,"c":1.068,"d":1.042,"e":0.981,"f":0.987,"g":70.1},
{"t":2018.625,"a":1.157,"b":1.082,"c":1.065,"d":1.019,"e":0.947,"f":0.989,"g":71.2},
{"t":2018.75,"a":1.134,"b":1.090,"c":1.069,"d":1.048,"e":0.983,"f":1.004,"g":71.8},
{"t":2018.875,"a":1.104,"b":1.073,"c":1.062,"d":1.037,"e":0.996,"f":0.993,"g":70.7},
{"t":2019,"a":1.140,"b":1.088,"c":1.068,"d":1.043,"e":1.012,"f":0.974,"g":71.2},
{"t":2019.125,"a":1.200,"b":1.115,"c":1.076,"d":1.056,"e":1.000,"f":1.014,"g":71.8},
{"t":2019.25,"a":1.175,"b":1.098,"c":1.069,"d":1.042,"e":0.993,"f":0.997,"g":72.3},
{"t":2019.375,"a":1.136,"b":1.075,"c":1.063,"d":1.035,"e":0.977,"f":1.004,"g":72.9},
{"t":2019.5,"a":1.121,"b":1.088,"c":1.044,"d":1.006,"e":0.947,"f":1.095,"g":70.7},
{"t":2019.625,"a":1.144,"b":1.079,"c":1.050,"d":1.030,"e":0.973,"f":0.993,"g":69},
{"t":2019.75,"a":1.184,"b":1.098,"c":1.067,"d":1.054,"e":0.994,"f":0.983,"g":69.2},
{"t":2019.875,"a":1.157,"b":1.098,"c":1.079,"d":1.065,"e":1.006,"f":0.960,"g":69.9},
{"t":2020,"a":1.140,"b":1.102,"c":1.082,"d":1.072,"e":1.014,"f":0.973,"g":70.7}
]
},
"vconcat":[
{
 "width":806,"height":550,
 "resolve":{"scale":{"y":"independent"}},
 "layer":[
  {"layer":[
   {"data":{"values":[{"g":0.91},{"g":0.93},{"g":0.95},{"g":0.97},{"g":0.99},{"g":1.01}]},
    "mark":{"type":"rule","color":"#000000","strokeWidth":1,"strokeDash":[2,2]},
    "encoding":{"y":{"field":"g","type":"quantitative"}}},
   {"data":{"values":[{"g":2001},{"g":2003},{"g":2005},{"g":2007},{"g":2009},{"g":2011},{"g":2013}]},
    "mark":{"type":"rule","color":"#000000","strokeWidth":1,"strokeDash":[2,2]},
    "encoding":{"x":{"field":"g","type":"quantitative"}}},
   {"data":{"name":"top"},
    "transform":[{"fold":["a","b","c","d","e","f"],"as":["s","v"]}],
    "mark":{"type":"line","strokeWidth":1.1},
    "encoding":{
     "x":{"field":"t","type":"quantitative","scale":{"domain":[2000,2014],"nice":false,"zero":false},
          "axis":{"values":[2000,2002,2004,2006,2008,2010,2012,2014],"format":"d","title":null,"grid":true,"gridColor":"#808080","labelPadding":12}},
     "y":{"field":"v","type":"quantitative","scale":{"domain":[0.89,1.03],"nice":false,"zero":false},
          "axis":{"values":[0.90,0.92,0.94,0.96,0.98,1.00,1.02],"format":".2f","title":null,"grid":true,"gridColor":"#000000","labelPadding":9}},
     "color":{"field":"s","type":"nominal","scale":{"domain":["a","b","c","d","e","f"],"range":["#000000","#0a2bff","#1e8fff","#00e5ee","#ff8c00","#ff2400"]},"legend":null}
    }},
   {"data":{"values":[{}]},"mark":{"type":"text","text":"81-day moving average of ratio TLE2021/TLE2015","color":"#000000","align":"center","baseline":"alphabetic","fontSize":19,"font":"DejaVu Serif"},
    "encoding":{"x":{"datum":2007},"y":{"datum":1.03382}}},
   {"data":{"values":[{}]},"mark":{"type":"text","text":"375 km (0.94/0.8%)","color":"#1e8fff","align":"left","baseline":"middle","fontSize":19,"font":"DejaVu Serif"},
    "encoding":{"x":{"datum":2004.082},"y":{"datum":1.0239}}},
   {"data":{"values":[{}]},"mark":{"type":"text","text":"400 km (0.95/0.8%)","color":"#00e5ee","align":"left","baseline":"middle","fontSize":19,"font":"DejaVu Serif"},
    "encoding":{"x":{"datum":2007.66},"y":{"datum":1.0239}}},
   {"data":{"values":[{}]},"mark":{"type":"text","text":"475 km (0.96/1.0%)","color":"#ff8c00","align":"left","baseline":"middle","fontSize":19,"font":"DejaVu Serif"},
    "encoding":{"x":{"datum":2004.082},"y":{"datum":1.0165}}},
   {"data":{"values":[{}]},"mark":{"type":"text","text":"575 km (0.98/1.4%)","color":"#ff1a1a","align":"left","baseline":"middle","fontSize":19,"font":"DejaVu Serif"},
    "encoding":{"x":{"datum":2007.608},"y":{"datum":1.0165}}},
   {"data":{"values":[{}]},"mark":{"type":"text","text":"250 km (0.91/0.7%)","color":"#000000","align":"left","baseline":"middle","fontSize":19,"font":"DejaVu Serif"},
    "encoding":{"x":{"datum":2000.243},"y":{"datum":0.9027}}},
   {"data":{"values":[{}]},"mark":{"type":"text","text":"325 km (0.92/0.9%)","color":"#0000ff","align":"left","baseline":"middle","fontSize":19,"font":"DejaVu Serif"},
    "encoding":{"x":{"datum":2000.243},"y":{"datum":0.8951}}},
   {"data":{"values":[{}]},"mark":{"type":"rule","color":"#000000","strokeWidth":2.5},
    "encoding":{"x":{"datum":1998.732},"y":{"datum":1.0407},"y2":{"datum":0.88084}}},
   {"data":{"values":[{}]},"mark":{"type":"rule","color":"#000000","strokeWidth":2.5},
    "encoding":{"x":{"datum":1998.732},"x2":{"datum":2015.545},"y":{"datum":1.0407}}},
   {"data":{"values":[{}]},"mark":{"type":"rule","color":"#000000","strokeWidth":2.5},
    "encoding":{"x":{"datum":1998.732},"x2":{"datum":2015.545},"y":{"datum":0.88084}}}
  ]},
  {"data":{"name":"top"},
   "mark":{"type":"line","color":"#aaaaaa","strokeWidth":2},
   "encoding":{
    "x":{"field":"t","type":"quantitative"},
    "y":{"field":"g","type":"quantitative","scale":{"domain":[60,230],"nice":false,"zero":false},
         "axis":{"orient":"right","values":[70,80,90,100,110,120,130,140,150,160,170,180,190,200,210,220],"labelExpr":"datum.value % 20 === 0 ? datum.label : ''","title":"81-day mean F10.7 (sfu)","titleColor":"#aaaaaa","titleFontSize":19,"titlePadding":10,"grid":false,"ticks":true,"tickSize":-7,"tickColor":"#000000","tickWidth":1.5,"labelPadding":8}}
   }}
 ]
},
{
 "width":806,"height":550,
 "resolve":{"scale":{"y":"independent"}},
 "layer":[
  {"layer":[
   {"data":{"values":[{"g":0.925},{"g":0.975},{"g":1.025},{"g":1.075},{"g":1.125},{"g":1.175}]},
    "mark":{"type":"rule","color":"#000000","strokeWidth":1,"strokeDash":[2,2]},
    "encoding":{"y":{"field":"g","type":"quantitative"}}},
   {"data":{"values":[{"g":2002},{"g":2006},{"g":2010},{"g":2014},{"g":2018}]},
    "mark":{"type":"rule","color":"#000000","strokeWidth":1,"strokeDash":[2,2]},
    "encoding":{"x":{"field":"g","type":"quantitative"}}},
   {"data":{"name":"bot"},
    "transform":[{"fold":["a","b","c","d","e","f"],"as":["s","v"]}],
    "mark":{"type":"line","strokeWidth":1.1},
    "encoding":{
     "x":{"field":"t","type":"quantitative","scale":{"domain":[2000,2020],"nice":false,"zero":false},
          "axis":{"values":[2000,2004,2008,2012,2016,2020],"format":"d","title":null,"grid":true,"gridColor":"#808080","labelPadding":10}},
     "y":{"field":"v","type":"quantitative","scale":{"domain":[0.90,1.22],"nice":false,"zero":false},
          "axis":{"values":[0.95,1.00,1.05,1.10,1.15,1.20],"format":".2f","title":null,"grid":true,"gridColor":"#000000","labelPadding":9}},
     "color":{"field":"s","type":"nominal","scale":{"domain":["a","b","c","d","e","f"],"range":["#000000","#0a2bff","#1e8fff","#00e5ee","#ff8c00","#ff2400"]},"legend":null}
    }},
   {"data":{"values":[{}]},"mark":{"type":"text","text":"81-day moving average of ratio HASDM/TLE2021","color":"#000000","align":"center","baseline":"alphabetic","fontSize":19,"font":"DejaVu Serif"},
    "encoding":{"x":{"datum":2010},"y":{"datum":1.22698}}},
   {"data":{"values":[{}]},"mark":{"type":"text","text":"250 km (1.15/2.1%)","color":"#000000","align":"left","baseline":"middle","fontSize":19,"font":"DejaVu Serif"},
    "encoding":{"x":{"datum":2012.308},"y":{"datum":1.20895}}},
   {"data":{"values":[{}]},"mark":{"type":"text","text":"325 km (1.09/1.4%)","color":"#0000ff","align":"left","baseline":"middle","fontSize":19,"font":"DejaVu Serif"},
    "encoding":{"x":{"datum":2012.308},"y":{"datum":1.19091}}},
   {"data":{"values":[{}]},"mark":{"type":"text","text":"375 km (1.07/1.1%)","color":"#1e8fff","align":"left","baseline":"middle","fontSize":19,"font":"DejaVu Serif"},
    "encoding":{"x":{"datum":2011.663},"y":{"datum":0.96342}}},
   {"data":{"values":[{}]},"mark":{"type":"text","text":"400 km (1.06/1.2%)","color":"#00e5ee","align":"left","baseline":"middle","fontSize":19,"font":"DejaVu Serif"},
    "encoding":{"x":{"datum":2011.663},"y":{"datum":0.94538}}},
   {"data":{"values":[{}]},"mark":{"type":"text","text":"475 km (1.02/2.2%)","color":"#ff8c00","align":"left","baseline":"middle","fontSize":19,"font":"DejaVu Serif"},
    "encoding":{"x":{"datum":2011.663},"y":{"datum":0.92793}}},
   {"data":{"values":[{}]},"mark":{"type":"text","text":"575 km (1.00/3.0%)","color":"#ff1a1a","align":"left","baseline":"middle","fontSize":19,"font":"DejaVu Serif"},
    "encoding":{"x":{"datum":2011.663},"y":{"datum":0.90989}}},
   {"data":{"values":[{}]},"mark":{"type":"rule","color":"#000000","strokeWidth":2.5},
    "encoding":{"x":{"datum":1998.1886},"y":{"datum":1.24269},"y2":{"datum":0.88371}}}
  ]},
  {"data":{"name":"bot"},
   "mark":{"type":"line","color":"#aaaaaa","strokeWidth":2},
   "encoding":{
    "x":{"field":"t","type":"quantitative"},
    "y":{"field":"g","type":"quantitative","scale":{"domain":[60,230],"nice":false,"zero":false},
         "axis":{"orient":"right","values":[70,80,90,100,110,120,130,140,150,160,170,180,190,200,210,220],"labelExpr":"datum.value % 20 === 0 ? datum.label : ''","title":"81-day mean F10.7 (sfu)","titleColor":"#aaaaaa","titleFontSize":19,"titlePadding":10,"grid":false,"ticks":true,"tickSize":-7,"tickColor":"#000000","tickWidth":1.5,"labelPadding":8}}
   }}
 ]
}
]
}
